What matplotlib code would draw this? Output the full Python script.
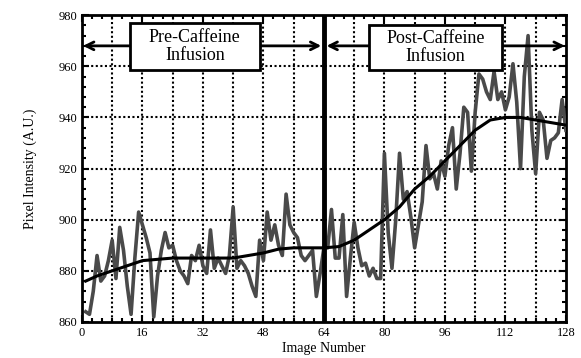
import numpy as np
import matplotlib
matplotlib.use("Agg")
import matplotlib.pyplot as plt
from matplotlib.ticker import MultipleLocator
from matplotlib.patches import Rectangle

plt.rcParams['font.family'] = ['Liberation Serif', 'DejaVu Serif']

# noisy pixel intensity, images 1..128
image_no = list(range(1, 129))
intensity = [
    864, 863, 872, 886, 876, 878, 884, 892, 877, 897,
    888, 874, 863, 885, 903, 898, 893, 887, 862, 878,
    888, 895, 889, 890, 884, 880, 878, 875, 886, 884,
    890, 882, 879, 896, 881, 885, 882, 879, 886, 905,
    881, 884, 882, 879, 874, 870, 892, 884, 903, 892,
    898, 890, 886, 910, 898, 895, 893, 886, 884, 886,
    888, 870, 879, 889, 889, 904, 885, 885, 902, 870,
    885, 899, 889, 882, 883, 878, 881, 877, 877, 926,
    895, 881, 900, 926, 908, 911, 901, 889, 898, 907,
    929, 916, 918, 912, 923, 917, 929, 936, 912, 926,
    944, 942, 919, 942, 957, 955, 950, 947, 958, 947,
    950, 943, 948, 961, 946, 920, 956, 972, 935, 918,
    942, 939, 924, 931, 932, 934, 947, 935,
]

# smoothed trend read at every 4 images
trend_x = [1, 4, 8, 12, 16, 20, 24, 32, 40, 44, 48, 52, 56, 64, 68, 72,
           76, 80, 84, 88, 92, 96, 100, 104, 108, 112, 116, 120, 124, 128]
trend_y = [876, 878, 880, 882, 884, 884.5, 885, 885, 885, 886, 887, 888.5,
           889, 889, 889.5, 892, 896, 900, 905, 912, 917, 923, 929, 935,
           939, 940, 940, 939, 938, 937]

# phase boxes: (left, right, bottom, top, label)
phases = [
    (12.7, 47.0, 958.5, 977.0, 'Pre-Caffeine\nInfusion'),
    (76.0, 111.0, 958.5, 976.0, 'Post-Caffeine\nInfusion'),
]

fig = plt.figure(figsize=(5.81, 3.58), dpi=100)
ax = fig.add_axes([0.141, 0.1006, 0.833, 0.857])

ax.plot(image_no, intensity, color='#4a4a4a', lw=2.6, zorder=3)
ax.plot(trend_x, trend_y, color='black', lw=2.2, zorder=4)
ax.axvline(64, color='black', lw=3.5, zorder=5)

ax.set_xlim(0, 128)
ax.set_ylim(860, 980)
ax.xaxis.set_major_locator(MultipleLocator(16))
ax.xaxis.set_minor_locator(MultipleLocator(16 / 6))
ax.yaxis.set_major_locator(MultipleLocator(20))
ax.yaxis.set_minor_locator(MultipleLocator(4))
ax.tick_params(which='both', direction='in', top=True, right=True, width=1.5, labelsize=9)
ax.tick_params(which='major', length=5)
ax.tick_params(which='minor', length=3)
for s in ax.spines.values():
    s.set_linewidth(2)

# dotted grid: every 8 in x, every 20 in y
for gx in range(8, 128, 8):
    ax.axvline(gx, color='black', lw=1.5, ls=(0, (1, 1.2)), zorder=1)
for gy in range(880, 980, 20):
    ax.axhline(gy, color='black', lw=1.5, ls=(0, (1, 1.2)), zorder=1)

ax.set_xlabel('Image Number', fontsize=10, labelpad=2)
ax.set_ylabel('Pixel Intensity (A.U.)', fontsize=10, labelpad=15)

# phase labels with arrows
arr = dict(arrowstyle='->', color='black', lw=2, mutation_scale=14, shrinkA=0, shrinkB=0)
edges = [(0.3, 63.3), (64.7, 127.7)]
for (x0, x1, y0, y1, label), (left_end, right_end) in zip(phases, edges):
    ymid = 968
    ax.annotate('', xy=(left_end, ymid), xytext=(x0, ymid), arrowprops=arr, zorder=6)
    ax.annotate('', xy=(right_end, ymid), xytext=(x1, ymid), arrowprops=arr, zorder=6)
    ax.add_patch(Rectangle((x0, y0), x1 - x0, y1 - y0, fc='white', ec='black',
                           lw=2, zorder=7))
    ax.text((x0 + x1) / 2, (y0 + y1) / 2, label, ha='center', va='center',
            fontsize=13, linespacing=1.05, zorder=8)

fig.savefig('out.png', dpi=100)
